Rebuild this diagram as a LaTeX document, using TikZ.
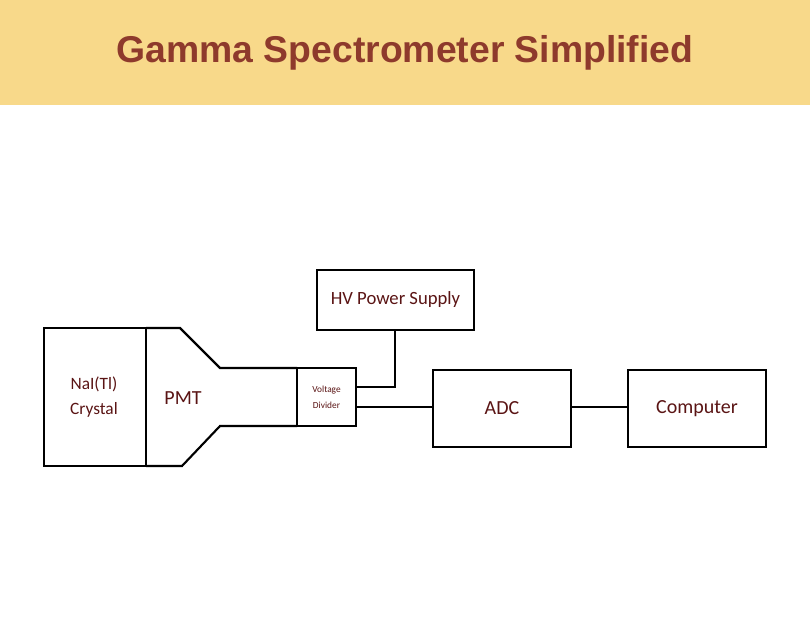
\documentclass[tikz,border=0pt]{standalone}
\usepackage{fontspec}
\setmainfont{Carlito}
\newfontfamily\titlefont{Liberation Sans}
\definecolor{band}{HTML}{F8D98A}
\definecolor{titlered}{HTML}{8E3A2C}
\definecolor{txt}{HTML}{5A1414}
\begin{document}
\begin{tikzpicture}[x=0.75pt,y=-0.75pt,
  line width=1.6pt, line join=miter,
  box/.style={draw=black,rectangle,inner sep=0pt,text=txt,font=\fontsize{14}{16}\selectfont}]
\useasboundingbox (0,0) rectangle (810,630);
\fill[band] (0,0) rectangle (810,105);
\node[text=titlered,font=\titlefont\bfseries\fontsize{28}{32}\selectfont] (title) at (405,53) {Gamma Spectrometer Simplified};
% crystal and PMT
\draw (146,328) -- (44,328) -- (44,466) -- (146,466);
\draw (146,328) -- (146,466);
\draw (146,328) -- (180,328) -- (220,368) -- (297,368);
\draw (146,466) -- (182,466) -- (220,426) -- (297,426);
\node[text=txt,font=\fontsize{13}{15}\selectfont,align=center] (nai) at (94,397) {NaI(Tl)\\[4pt]Crystal};
\node[text=txt,font=\fontsize{15}{17}\selectfont] (pmt) at (183,398) {PMT};
% boxes
\node[box,minimum width=44.25pt,minimum height=43.5pt,font=\fontsize{7}{8}\selectfont,align=center] (vd) at (326.5,397) {Voltage\\[4pt]Divider};
\node[box,minimum width=117.75pt,minimum height=45pt] (hv) at (395.5,300) {HV Power Supply};
\node[box,minimum width=103.5pt,minimum height=57.75pt,font=\fontsize{15}{17}\selectfont] (adc) at (502,408.5) {ADC};
\node[box,minimum width=103.5pt,minimum height=57.75pt,font=\fontsize{15}{17}\selectfont] (pc) at (697,408.5) {Computer};
% connectors
\coordinate (k) at (395,387);
\draw (vd.east |- k) -- (k) -- (k |- hv.south);
\draw (vd.east |- 0,407) -- (adc.west |- 0,407);
\draw (adc.east |- 0,407) -- (pc.west |- 0,407);
\end{tikzpicture}
\end{document}
